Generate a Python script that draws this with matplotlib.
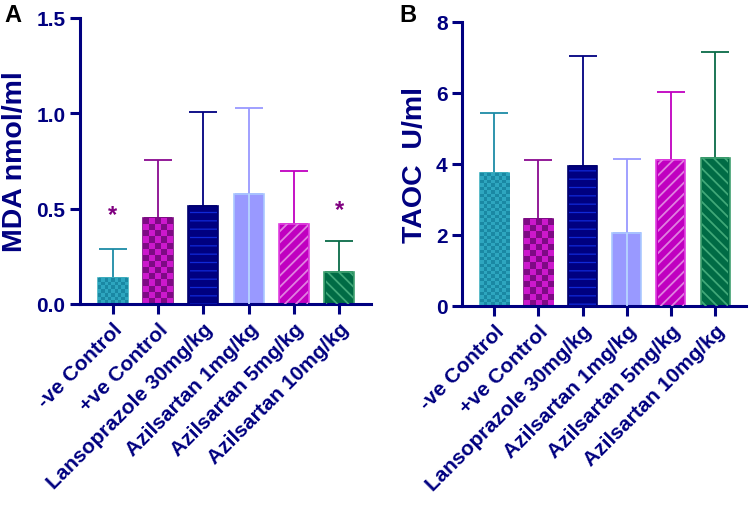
import numpy as np
import matplotlib
matplotlib.use("Agg")
import matplotlib.pyplot as plt
from matplotlib.colors import ListedColormap

plt.rcParams['font.family'] = ['Liberation Sans', 'DejaVu Sans']
plt.rcParams['font.weight'] = 'bold'
plt.rcParams['hatch.linewidth'] = 1.3

groups = ["-ve Control", "+ve Control", "Lansoprazole 30mg/kg",
          "Azilsartan 1mg/kg", "Azilsartan 5mg/kg", "Azilsartan 10mg/kg"]

mda_mean = [0.135, 0.45, 0.515, 0.577, 0.418, 0.166]
mda_sd = [0.155, 0.307, 0.493, 0.453, 0.28, 0.163]
mda_star = [0.47, None, None, None, None, 0.495]

taoc_mean = [3.74, 2.44, 3.94, 2.06, 4.10, 4.17]
taoc_sd = [1.69, 1.66, 3.09, 2.08, 1.91, 2.97]

fill_colors = ["#1c8ba6", "#7e0a84", "#000080", "#9999ff", "#c000c0", "#006b45"]
edge_colors = ["#40b0c0", "#7a0a80", "#000070", "#aac8ff", "#e040e0", "#40a070"]
hatch_colors = [None, None, "#1028d8", None, "#e080e0", "#40a878"]
hatches = [None, None, "--", None, "///", "\\\\\\"]
checker = [("#1a88a3", "#2ea6bf", 3.5), ("#7e0a84", "#cc18cc", 6), None, None, None, None]
err_colors = ["#1c8ba6", "#8a0a90", "#000080", "#9999ff", "#c000c0", "#0a6b48"]

navy = "#000080"


def add_checker(ax, patch, c1, c2, cell_px):
    x0, w, h = patch.get_x(), patch.get_width(), patch.get_height()
    p0 = ax.transData.transform((x0, 0))
    p1 = ax.transData.transform((x0 + w, h))
    ncol = max(1, int(round((p1[0] - p0[0]) / cell_px)))
    nrow = max(1, int(round((p1[1] - p0[1]) / cell_px)))
    grid = (np.add.outer(np.arange(nrow), np.arange(ncol)) % 2).astype(float)
    im = ax.imshow(grid, cmap=ListedColormap([c1, c2]), extent=(x0, x0 + w, 0, h),
                   aspect="auto", interpolation="nearest", zorder=2.5)
    im.set_clip_path(patch)


def draw(ax, means, sds, ylim, yticks, ylabel, stars=None, tickfmt="{:.1f}"):
    x = np.arange(len(groups))
    ax.set_xlim(-0.72, len(groups) - 0.3)
    ax.set_ylim(*ylim)
    for i in range(len(groups)):
        ax.errorbar(x[i], means[i], yerr=[[0], [sds[i]]], color=err_colors[i],
                    capsize=10, elinewidth=1.3, capthick=1.3, zorder=1)
        bars = ax.bar(x[i], means[i], width=0.66, color=fill_colors[i],
                      edgecolor=edge_colors[i], linewidth=1.2, zorder=2)
        if checker[i]:
            c1, c2, px = checker[i]
            add_checker(ax, bars[0], c1, c2, px)
        if hatches[i]:
            hb = ax.bar(x[i], means[i], width=0.6, color="none",
                        edgecolor=hatch_colors[i], hatch=hatches[i], linewidth=0, zorder=3)
            if hatches[i] == "--" and hasattr(hb[0], "set_hatch_linewidth"):
                hb[0].set_hatch_linewidth(0.9)
    # light center line seen in the Azilsartan 1mg/kg bar
    ax.vlines(x[3], 0, means[3], color="#b8d4ff", lw=1.3, zorder=4)
    if stars:
        for i, s in enumerate(stars):
            if s is not None:
                ax.text(x[i], s, "*", color="#800080", fontsize=17,
                        ha="center", va="center")
    ax.set_yticks(yticks)
    ax.set_yticklabels([tickfmt.format(t) for t in yticks])
    ax.set_xticks(x)
    ax.set_xticklabels(groups, rotation=45, ha="right", rotation_mode="anchor")
    for sp in ["top", "right"]:
        ax.spines[sp].set_visible(False)
    for sp in ["left", "bottom"]:
        ax.spines[sp].set_color(navy)
        ax.spines[sp].set_linewidth(2.2)
    ax.tick_params(colors=navy, width=2.2, length=7, labelsize=15)
    ax.tick_params(axis="x", labelsize=15, pad=4)
    for lab in ax.get_xticklabels() + ax.get_yticklabels():
        lab.set_fontweight("bold")
    ax.set_ylabel(ylabel, color=navy, fontsize=20.5, fontweight="bold", labelpad=6)


fig = plt.figure(figsize=(7.5, 5.1), dpi=100)
ax1 = fig.add_axes([0.1067, 0.402, 0.388, 0.561])
ax2 = fig.add_axes([0.6164, 0.3986, 0.3783, 0.5569])

draw(ax1, mda_mean, mda_sd, (0, 1.5), [0.0, 0.5, 1.0, 1.5], "MDA nmol/ml",
     stars=mda_star)
draw(ax2, taoc_mean, taoc_sd, (0, 8), [0, 2, 4, 6, 8], "TAOC  U/ml",
     tickfmt="{:.0f}")

fig.text(0.006, 0.992, "A", fontsize=17, fontweight="bold", color="black", va="top")
fig.text(0.533, 0.992, "B", fontsize=17, fontweight="bold", color="black", va="top")

fig.savefig("out.png", dpi=100)
